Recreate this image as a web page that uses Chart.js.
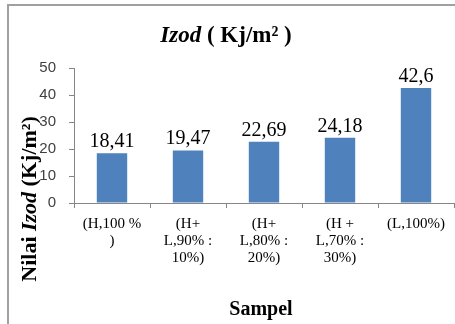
<!DOCTYPE html>
<html>
<head>
<meta charset="utf-8">
<script src="https://cdn.jsdelivr.net/npm/chart.js@4.4.1/dist/chart.umd.min.js"></script>
<style>
  html, body { margin: 0; padding: 0; background: #fff; }
  #wrap { width: 455px; height: 324px; position: relative; }
</style>
</head>
<body>
<div id="wrap"><canvas id="c" width="455" height="324"></canvas></div>
<script>
// data
const categories = [
    ['(H,100 %', ')'],
    ['(H+', 'L,90% :', '10%)'],
    ['(H+', 'L,80% :', '20%)'],
    ['(H +', 'L,70% :', '30%)'],
    ['(L,100%)']
];
const izodValues = [18.41, 19.47, 22.69, 24.18, 42.6];
const valueLabels = ['18,41', '19,47', '22,69', '24,18', '42,6'];
const yTicks = [0, 10, 20, 30, 40, 50];

const SERIF = '"Liberation Serif", "Times New Roman", serif';
const SANS = '"Liberation Sans", Arial, sans-serif';
const AXIS = '#868686';

// frame, title, axis titles, value labels
const decor = {
    id: 'decor',
    beforeDraw(chart) {
        const ctx = chart.ctx;
        ctx.save();
        ctx.fillStyle = '#fff';
        ctx.fillRect(0, 0, chart.width, chart.height);
        ctx.strokeStyle = '#a0a0a0';
        ctx.lineWidth = 2;
        ctx.beginPath();
        ctx.moveTo(8, chart.height);
        ctx.lineTo(8, 5);
        ctx.lineTo(chart.width, 5);
        ctx.stroke();
        ctx.restore();
    },
    afterDraw(chart) {
        const ctx = chart.ctx;
        ctx.save();
        ctx.fillStyle = '#000';
        ctx.textBaseline = 'alphabetic';

        // title: Izod ( Kj/m² )
        const p1 = 'Izod', p2 = ' ( Kj/m² )';
        ctx.font = 'italic bold 23px ' + SERIF;
        const w1 = ctx.measureText(p1).width;
        ctx.font = 'bold 23px ' + SERIF;
        const w2 = ctx.measureText(p2).width;
        let x = 226 - (w1 + w2) / 2;
        ctx.textAlign = 'left';
        ctx.font = 'italic bold 23px ' + SERIF;
        ctx.fillText(p1, x, 42);
        ctx.font = 'bold 23px ' + SERIF;
        ctx.fillText(p2, x + w1, 42);

        // y title rotated
        const parts = [['Nilai ', 'bold'], ['Izod', 'italic bold'], [' (Kj/m²)', 'bold']];
        let total = 0;
        parts.forEach(p => { ctx.font = p[1] + ' 22px ' + SERIF; total += ctx.measureText(p[0]).width; });
        ctx.translate(36, 199);
        ctx.rotate(-Math.PI / 2);
        let yx = -total / 2;
        parts.forEach(p => {
            ctx.font = p[1] + ' 22px ' + SERIF;
            ctx.fillText(p[0], yx, 0);
            yx += ctx.measureText(p[0]).width;
        });
        ctx.setTransform(1, 0, 0, 1, 0, 0);

        // x title
        ctx.font = 'bold 20px ' + SERIF;
        ctx.textAlign = 'center';
        ctx.fillText('Sampel', 261, 315);

        // value labels above bars
        const meta = chart.getDatasetMeta(0);
        ctx.font = '20px ' + SERIF;
        meta.data.forEach((bar, i) => {
            ctx.fillText(valueLabels[i], bar.x, bar.y - 6);
        });
        ctx.restore();
    }
};

new Chart(document.getElementById('c'), {
    type: 'bar',
    data: {
        labels: categories,
        datasets: [{
            data: izodValues,
            backgroundColor: '#4F81BD',
            borderWidth: 0,
            categoryPercentage: 1,
            barPercentage: 0.4
        }]
    },
    options: {
        responsive: false,
        animation: false,
        devicePixelRatio: 1,
        layout: { padding: { top: 68, right: 1, left: 0, bottom: 0 } },
        plugins: { legend: { display: false }, tooltip: { enabled: false } },
        scales: {
            x: {
                grid: { offset: true, drawOnChartArea: false, tickLength: 5, color: AXIS },
                border: { color: AXIS, width: 1 },
                ticks: {
                    color: '#000',
                    font: { family: SERIF, size: 15, lineHeight: 1.13 },
                    maxRotation: 0, autoSkip: false, padding: 8
                },
                afterFit(scale) { scale.height = 121; }
            },
            y: {
                min: 0, max: 50,
                afterBuildTicks(scale) { scale.ticks = yTicks.map(v => ({ value: v })); },
                grid: { drawOnChartArea: false, tickLength: 5, color: AXIS },
                border: { color: AXIS, width: 1 },
                ticks: {
                    color: '#404040',
                    font: { family: SANS, size: 15 },
                    padding: 13
                },
                afterFit(scale) { scale.width = 74; }
            }
        }
    },
    plugins: [decor]
});
</script>
</body>
</html>
